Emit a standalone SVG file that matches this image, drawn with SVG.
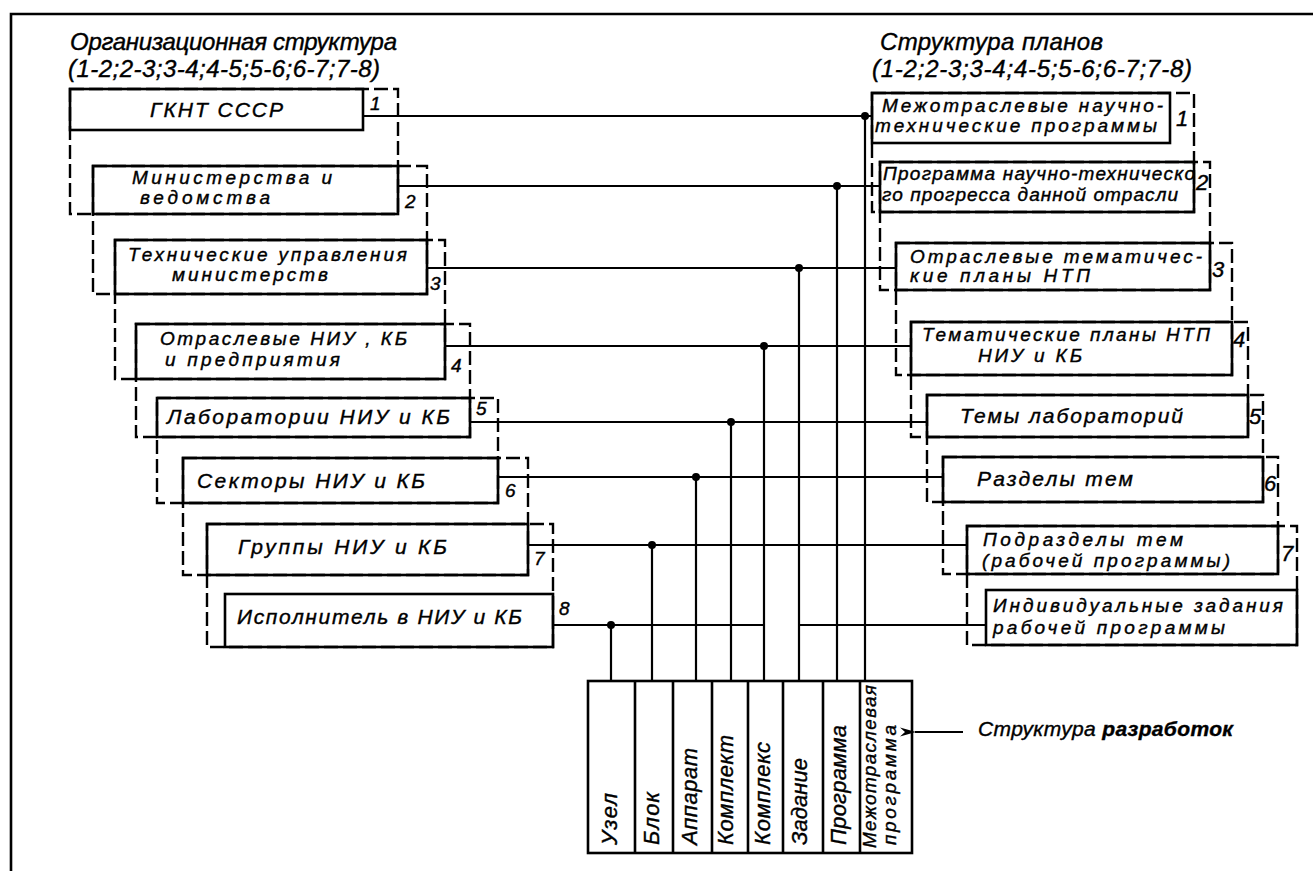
<svg xmlns="http://www.w3.org/2000/svg" width="1313" height="871" viewBox="0 0 1313 871">
<style>
.box{fill:none;stroke:#000;stroke-width:2.6}
.dash{fill:none;stroke:#000;stroke-width:2.4;stroke-dasharray:14 5}
.con{fill:none;stroke:#000;stroke-width:2.2}
.dot{fill:#000}
.t{font-family:"Liberation Sans","DejaVu Sans",sans-serif;font-style:italic;font-size:21px;fill:#000;stroke:#000;stroke-width:0.4}
.s2{font-size:19px}
.ti{font-size:24px}
.nl{font-size:19px}
.nr{font-size:22px}
.col{font-size:22px}
</style>
<defs>
<marker id="ah" viewBox="0 0 16 12" refX="1" refY="6" markerWidth="16" markerHeight="12" markerUnits="userSpaceOnUse" orient="auto">
<path d="M16,1.5 L0,6 L16,10.5 L11,6 Z" fill="#000"/>
</marker>
</defs>
<rect width="1313" height="871" fill="#fff"/>
<g id="frame">
<path class="box" d="M11,871 V14 H1313"/>
</g>
<g id="titles">
<text class="t ti" x="70" y="50" textLength="327" lengthAdjust="spacing">Организационная структура</text>
<text class="t ti" x="68" y="77" textLength="312" lengthAdjust="spacing">(1-2;2-3;3-4;4-5;5-6;6-7;7-8)</text>
<text class="t ti" x="880" y="50" textLength="223" lengthAdjust="spacing">Структура планов</text>
<text class="t ti" x="872" y="77" textLength="320" lengthAdjust="spacing">(1-2;2-3;3-4;4-5;5-6;6-7;7-8)</text>
</g>
<g id="org-groups">
<rect class="dash" x="70" y="89" width="328" height="125"/>
<rect class="dash" x="93" y="166" width="334" height="128"/>
<rect class="dash" x="115" y="240" width="330" height="139"/>
<rect class="dash" x="136" y="324" width="334" height="113"/>
<rect class="dash" x="157" y="398" width="341" height="105"/>
<rect class="dash" x="183" y="458" width="345" height="117"/>
<rect class="dash" x="207" y="524" width="346" height="123"/>
</g>
<g id="plan-groups">
<rect class="dash" x="872" y="93" width="322" height="119"/>
<rect class="dash" x="880" y="162" width="330" height="128"/>
<rect class="dash" x="896" y="243" width="336" height="132"/>
<rect class="dash" x="911" y="322" width="337" height="115"/>
<rect class="dash" x="927" y="395" width="336" height="107"/>
<rect class="dash" x="943" y="457" width="335" height="117"/>
<rect class="dash" x="967" y="526" width="330" height="119"/>
</g>
<g id="connectors">
<path class="con" d="M363,116 H872 M398,186 H880 M427,268 H896 M445,346 H911 M470,422 H927 M498,477 H943 M528,545 H967 M553,625 H764 M799,625 H986"/>
<path class="con" d="M865,116 V681 M837,186 V681 M799,268 V681 M764,346 V681 M731,422 V681 M696,477 V681 M652,545 V681 M611,625 V681"/>
<circle class="dot" cx="865" cy="116" r="4"/>
<circle class="dot" cx="837" cy="186" r="4"/>
<circle class="dot" cx="799" cy="268" r="4"/>
<circle class="dot" cx="764" cy="346" r="4"/>
<circle class="dot" cx="731" cy="422" r="4"/>
<circle class="dot" cx="696" cy="477" r="4"/>
<circle class="dot" cx="652" cy="545" r="4"/>
<circle class="dot" cx="611" cy="625" r="4"/>
<path class="con" d="M963,732 H915" marker-end="url(#ah)"/>
</g>
<g id="org1"><rect class="box" x="70" y="89" width="293" height="41"/><text class="t" x="150" y="117" textLength="133" lengthAdjust="spacing">ГКНТ СССР</text><text class="t nl" x="370" y="110">1</text></g>
<g id="org2"><rect class="box" x="93" y="166" width="305" height="48"/><text class="t s2" x="132" y="184" textLength="200" lengthAdjust="spacing">Министерства и</text><text class="t s2" x="140" y="204" textLength="130" lengthAdjust="spacing">ведомства</text><text class="t nl" x="405" y="208">2</text></g>
<g id="org3"><rect class="box" x="115" y="240" width="312" height="54"/><text class="t s2" x="128" y="261" textLength="279" lengthAdjust="spacing">Технические управления</text><text class="t s2" x="172" y="281" textLength="156" lengthAdjust="spacing">министерств</text><text class="t nl" x="430" y="290">3</text></g>
<g id="org4"><rect class="box" x="136" y="324" width="309" height="55"/><text class="t s2" x="160" y="345" textLength="247" lengthAdjust="spacing">Отраслевые НИУ , КБ</text><text class="t s2" x="165" y="366" textLength="175" lengthAdjust="spacing">и предприятия</text><text class="t nl" x="451" y="372">4</text></g>
<g id="org5"><rect class="box" x="157" y="398" width="313" height="39"/><text class="t" x="167" y="424" textLength="283" lengthAdjust="spacing">Лаборатории НИУ и КБ</text><text class="t nl" x="476" y="415">5</text></g>
<g id="org6"><rect class="box" x="183" y="458" width="315" height="45"/><text class="t" x="197" y="488" textLength="228" lengthAdjust="spacing">Секторы НИУ и КБ</text><text class="t nl" x="505" y="497">6</text></g>
<g id="org7"><rect class="box" x="207" y="524" width="321" height="51"/><text class="t" x="238" y="554" textLength="209" lengthAdjust="spacing">Группы НИУ и КБ</text><text class="t nl" x="534" y="565">7</text></g>
<g id="org8"><rect class="box" x="225" y="594" width="328" height="53"/><text class="t" x="237" y="624" textLength="285" lengthAdjust="spacing">Исполнитель в НИУ и КБ</text><text class="t nl" x="559" y="615">8</text></g>
<g id="plan1"><rect class="box" x="872" y="93" width="298" height="50"/><text class="t s2" x="882" y="112" textLength="281" lengthAdjust="spacing">Межотраслевые научно-</text><text class="t s2" x="875" y="132" textLength="282" lengthAdjust="spacing">технические программы</text><text class="t nr" x="1176" y="126">1</text></g>
<g id="plan2"><rect class="box" x="880" y="162" width="314" height="50"/><text class="t s2" x="883" y="180" textLength="312" lengthAdjust="spacing">Программа научно-техническо</text><text class="t s2" x="882" y="201" textLength="296" lengthAdjust="spacing">го прогресса данной отрасли</text><text class="t nr" x="1196" y="190">2</text></g>
<g id="plan3"><rect class="box" x="896" y="243" width="314" height="47"/><text class="t s2" x="910" y="263" textLength="292" lengthAdjust="spacing">Отраслевые тематичес-</text><text class="t s2" x="910" y="282" textLength="180" lengthAdjust="spacing">кие планы НТП</text><text class="t nr" x="1212" y="277">3</text></g>
<g id="plan4"><rect class="box" x="911" y="322" width="321" height="53"/><text class="t s2" x="922" y="341" textLength="288" lengthAdjust="spacing">Тематические планы НТП</text><text class="t s2" x="978" y="362" textLength="104" lengthAdjust="spacing">НИУ и КБ</text><text class="t nr" x="1233" y="347">4</text></g>
<g id="plan5"><rect class="box" x="927" y="395" width="321" height="42"/><text class="t" x="960" y="423" textLength="223" lengthAdjust="spacing">Темы лабораторий</text><text class="t nr" x="1249" y="424">5</text></g>
<g id="plan6"><rect class="box" x="943" y="457" width="320" height="45"/><text class="t" x="977" y="486" textLength="156" lengthAdjust="spacing">Разделы тем</text><text class="t nr" x="1264" y="491">6</text></g>
<g id="plan7"><rect class="box" x="967" y="526" width="311" height="48"/><text class="t s2" x="983" y="546" textLength="200" lengthAdjust="spacing">Подразделы тем</text><text class="t s2" x="982" y="567" textLength="248" lengthAdjust="spacing">(рабочей программы)</text><text class="t nr" x="1281" y="561">7</text></g>
<g id="plan8"><rect class="box" x="986" y="590" width="311" height="55"/><text class="t s2" x="993" y="612" textLength="290" lengthAdjust="spacing">Индивидуальные задания</text><text class="t s2" x="993" y="634" textLength="232" lengthAdjust="spacing">рабочей программы</text></g>
<g id="dev-structure">
<rect class="box" x="588" y="681" width="324" height="172"/>
<path class="box" d="M635,681 V853 M673,681 V853 M712,681 V853 M748,681 V853 M783,681 V853 M823,681 V853 M860,681 V853"/>
<text class="t col" transform="translate(617,845) rotate(-90)" textLength="52" lengthAdjust="spacing">Узел</text>
<text class="t col" transform="translate(659,845) rotate(-90)" textLength="53" lengthAdjust="spacing">Блок</text>
<text class="t col" transform="translate(697,845) rotate(-90)" textLength="97" lengthAdjust="spacing">Аппарат</text>
<text class="t col" transform="translate(733,845) rotate(-90)" textLength="110" lengthAdjust="spacing">Комплект</text>
<text class="t col" transform="translate(770,845) rotate(-90)" textLength="103" lengthAdjust="spacing">Комплекс</text>
<text class="t col" transform="translate(807,845) rotate(-90)" textLength="87" lengthAdjust="spacing">Задание</text>
<text class="t col" transform="translate(846,845) rotate(-90)" textLength="120" lengthAdjust="spacing">Программа</text>
<text class="t s2" transform="translate(876,848) rotate(-90)" textLength="163" lengthAdjust="spacing">Межотраслевая</text>
<text class="t s2" transform="translate(896,845) rotate(-90)" textLength="120" lengthAdjust="spacing">программа</text>
</g>
<g id="dev-label">
<text class="t" x="978" y="736" font-size="20" textLength="255" lengthAdjust="spacing">Структура <tspan font-weight="bold">разработок</tspan></text>
</g>
</svg>
